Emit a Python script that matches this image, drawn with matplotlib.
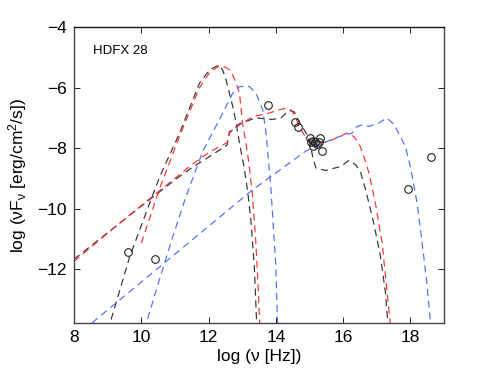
import matplotlib
matplotlib.use("Agg")
import matplotlib.pyplot as plt
import numpy as np

plt.rcParams['font.family'] = ['Liberation Sans', 'DejaVu Sans']
plt.rcParams['mathtext.fontset'] = 'custom'
plt.rcParams['mathtext.rm'] = 'Liberation Sans'
plt.rcParams['mathtext.default'] = 'regular'

# ---- data (log nu, log nuFnu) ----
black_sync_x = [8.8, 9.07, 9.66, 10.25, 10.55, 11.14, 11.73, 12.03, 12.3, 12.42, 12.52, 12.62, 12.72, 12.82, 12.92, 13.05, 13.16, 13.26, 13.36, 13.43]
black_sync_y = [-14.8, -13.8, -11.58, -9.82, -8.94, -7.5, -5.85, -5.41, -5.25, -5.41, -5.74, -6.18, -6.62, -7.17, -7.83, -8.6, -9.4, -10.4, -11.9, -13.8]

red_sync_x = [10.0, 10.55, 11.14, 11.73, 12.03, 12.32, 12.52, 12.62, 12.72, 12.82, 12.92, 12.96, 13.01, 13.11, 13.2, 13.3, 13.4, 13.47, 13.52]
red_sync_y = [-11.15, -9.32, -7.6, -6.0, -5.5, -5.27, -5.33, -5.41, -5.58, -5.85, -6.18, -6.62, -7.17, -7.83, -8.5, -9.5, -11.0, -12.5, -13.8]

blue_sync_x = [10.0, 10.15, 10.54, 10.94, 11.33, 11.83, 12.32, 12.72, 12.92, 13.21, 13.41, 13.61, 13.71, 13.85, 14.0, 14.05]
blue_sync_y = [-14.4, -13.8, -12.35, -10.92, -9.6, -8.1, -7.06, -6.18, -5.96, -5.96, -6.18, -6.73, -7.5, -9.27, -11.9, -13.8]

black_ic_x = [8.0, 9.0, 10.0, 11.0, 11.5, 12.0, 12.55, 12.62, 12.9, 13.4, 13.9, 14.15, 14.4, 14.55, 14.7, 14.9, 15.0, 15.1, 15.19, 15.48, 15.92, 16.17, 16.37, 16.52, 16.67, 16.91, 17.11, 17.26, 17.33]
black_ic_y = [-11.68, -10.8, -9.92, -9.05, -8.65, -8.3, -7.9, -7.5, -7.2, -7.0, -7.05, -7.0, -6.75, -6.8, -7.15, -7.5, -7.75, -8.3, -8.66, -8.74, -8.61, -8.41, -8.55, -8.8, -9.38, -10.48, -11.58, -12.79, -13.8]

red_ic_x = [8.0, 9.0, 10.0, 11.0, 11.5, 12.0, 12.55, 12.62, 13.01, 13.31, 13.8, 14.1, 14.3, 14.45, 14.59, 14.69, 14.84, 14.99, 15.28, 15.58, 15.88, 16.12, 16.32, 16.47, 16.62, 16.77, 16.96, 17.16, 17.26, 17.4]
red_ic_y = [-11.75, -10.82, -9.9, -9.0, -8.55, -8.15, -7.82, -7.45, -7.17, -6.96, -6.84, -6.73, -6.68, -6.73, -6.96, -7.29, -7.56, -7.73, -7.83, -7.78, -7.62, -7.5, -7.62, -7.84, -8.28, -8.83, -9.82, -11.14, -12.24, -13.8]

blue_ic_x = [8.0, 8.52, 13.31, 14.89, 15.38, 15.88, 16.27, 16.42, 16.57, 16.77, 17.06, 17.3, 17.5, 17.65, 17.85, 18.0, 18.2, 18.35, 18.49, 18.6]
blue_ic_y = [-14.28, -13.8, -9.38, -8.1, -7.84, -7.62, -7.5, -7.28, -7.23, -7.28, -7.17, -7.0, -7.2, -7.5, -7.95, -8.61, -9.82, -11.14, -12.46, -13.8]

obs_x = [9.61, 10.4, 13.76, 14.57, 14.67, 15.03, 15.06, 15.1, 15.12, 15.17, 15.22, 15.28, 15.32, 15.38, 17.93, 18.61]
obs_y = [-11.44, -11.67, -6.58, -7.12, -7.31, -7.67, -7.8, -7.75, -7.93, -7.8, -7.85, -7.8, -7.65, -8.09, -9.34, -8.28]

xticks = [8, 10, 12, 14, 16, 18]
yticks = [-4, -6, -8, -10, -12]

fig = plt.figure(figsize=(4.91, 3.69), dpi=100)
ax = fig.add_axes([0.1507, 0.1238, 0.7536, 0.8022])

dash = (6, 4)
kw = dict(lw=0.85, dashes=dash)
ax.plot(black_sync_x, black_sync_y, color='#333333', **kw)
ax.plot(black_ic_x, black_ic_y, color='#333333', **kw)
ax.plot(red_sync_x, red_sync_y, color='#ff3030', **kw)
ax.plot(red_ic_x, red_ic_y, color='#ff3030', **kw)
ax.plot(blue_sync_x, blue_sync_y, color='#4d6dff', **kw)
ax.plot(blue_ic_x, blue_ic_y, color='#4d6dff', **kw)

ax.plot(obs_x, obs_y, 'o', mfc='none', mec='#222222', ms=5.5, mew=0.8, zorder=5)

ax.text(8.57, -4.8, 'HDFX 28', fontsize=9.5, va='center', ha='left')

ax.set_xlim(8, 19)
ax.set_ylim(-13.8, -4)
ax.set_xticks(xticks)
ax.set_yticks(yticks)
ax.tick_params(direction='in', top=True, right=True, labelsize=12.5, length=4, width=0.6, pad=5)
for s in ax.spines.values():
    s.set_linewidth(1.0)
    s.set_color('#444444')
ax.spines['top'].set_color('#111111')

ax.set_xlabel('log (ν [Hz])', fontsize=12.5, labelpad=3)
ax.set_ylabel('log (νF$_ν$ [erg/cm$^2$/s])', fontsize=12.5, labelpad=6)

fig.savefig('out.png', dpi=100)
